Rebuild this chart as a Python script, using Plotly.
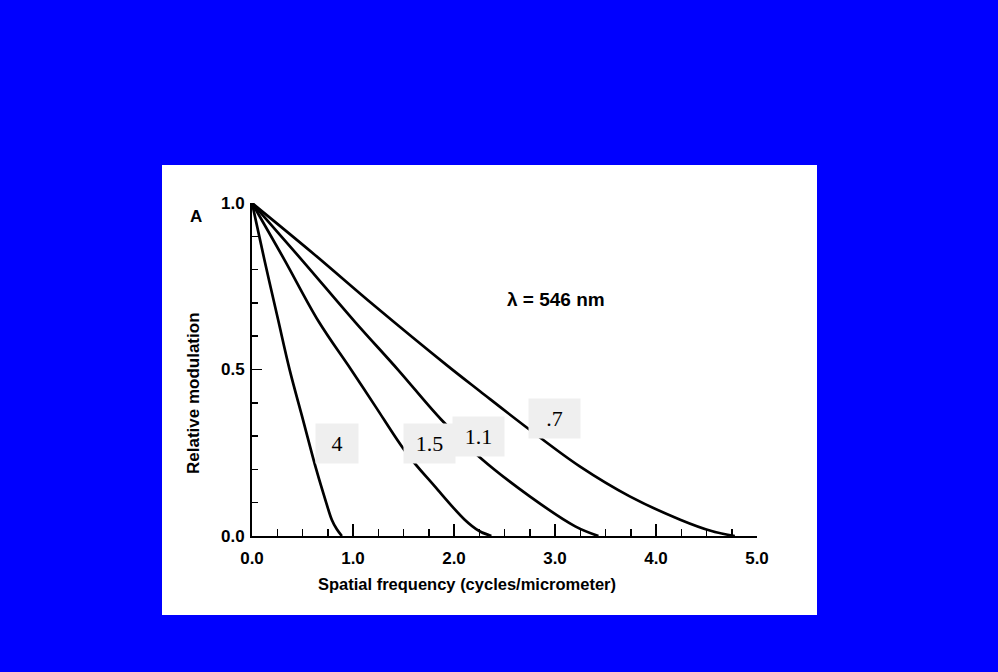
import plotly.graph_objects as go

# ---- data ----
x_tick_vals = [0, 1, 2, 3, 4, 5]
x_tick_text = ["0.0", "1.0", "2.0", "3.0", "4.0", "5.0"]
y_tick_vals = [0, 0.5, 1.0]
y_tick_text = ["0.0", "0.5", "1.0"]

curve_labels = ["4", "1.5", "1.1", ".7"]

freq_4 = [0, 0.126, 0.258, 0.373, 0.505, 0.637, 0.736, 0.79, 0.84, 0.89]
mod_4 = [1.0, 0.825, 0.65, 0.499, 0.349, 0.199, 0.099, 0.049, 0.02, 0.0]

freq_15 = [0, 0.32, 0.66, 0.98, 1.22, 1.53, 1.81, 2.106, 2.25, 2.37]
mod_15 = [1.0, 0.83, 0.644, 0.50, 0.39, 0.249, 0.149, 0.049, 0.015, 0.0]

freq_11 = [0, 0.505, 1.017, 1.446, 1.875, 2.26, 2.75, 3.2, 3.43]
mod_11 = [1.0, 0.825, 0.644, 0.499, 0.349, 0.235, 0.119, 0.029, 0.0]

freq_07 = [0, 0.60, 1.198, 1.94, 2.26, 2.75, 3.245, 3.74, 4.24, 4.55, 4.78]
mod_07 = [1.0, 0.85, 0.695, 0.51, 0.434, 0.319, 0.209, 0.119, 0.049, 0.015, 0.0]

series = [(freq_4, mod_4), (freq_15, mod_15), (freq_11, mod_11), (freq_07, mod_07)]

# label box positions (data coords) and widths
label_pos = [(0.839, 0.279, 42), (1.756, 0.279, 51), (2.242, 0.300, 51), (2.995, 0.352, 51)]

fig = go.Figure()
for name, (xs, ys) in zip(curve_labels, series):
    fig.add_trace(go.Scatter(x=xs, y=ys, mode="lines", name=name,
                             line=dict(color="black", width=2.7, shape="spline", smoothing=1.0),
                             hoverinfo="skip"))

sans = "Liberation Sans, Arial, sans-serif"
serif = "Liberation Serif, Times New Roman, serif"

fig.update_layout(
    width=998, height=672,
    margin=dict(l=252, r=241, t=203, b=136),
    paper_bgcolor="#0000FF",
    plot_bgcolor="white",
    showlegend=False,
    xaxis=dict(range=[0, 5], tickvals=x_tick_vals, ticktext=x_tick_text,
               showgrid=False, zeroline=False, showline=True, linecolor="black", linewidth=2,
               ticks="inside", ticklen=12, tickwidth=1.5, tickcolor="black",
               minor=dict(dtick=0.25, ticks="inside", ticklen=7, tickwidth=1.5, tickcolor="black", showgrid=False),
               ticklabelstandoff=6,
               tickfont=dict(family=sans, size=17, color="black", weight="bold"), fixedrange=True),
    yaxis=dict(range=[0, 1], tickvals=y_tick_vals, ticktext=y_tick_text,
               showgrid=False, zeroline=False, showline=True, linecolor="black", linewidth=2,
               ticks="inside", ticklen=10, tickwidth=1.5, tickcolor="black",
               minor=dict(dtick=0.1, ticks="inside", ticklen=6, tickwidth=1.5, tickcolor="black", showgrid=False),
               ticklabelstandoff=2,
               tickfont=dict(family=sans, size=17, color="black", weight="bold"), fixedrange=True),
)

# white panel behind the chart
fig.add_shape(type="rect", xref="paper", yref="paper",
              x0=(162 - 252) / 505, x1=(817 - 252) / 505,
              y0=(536 - 615) / 333, y1=(536 - 165) / 333,
              fillcolor="white", line=dict(width=0), layer="below")

annotations = [
    dict(text="<b>Spatial frequency (cycles/micrometer)</b>", xref="paper", yref="paper",
         x=(467 - 252) / 505, y=(536 - 583.5) / 333, showarrow=False,
         font=dict(family=sans, size=16.5, color="black"), xanchor="center", yanchor="middle"),
    dict(text="<b>Relative modulation</b>", xref="paper", yref="paper", textangle=-90,
         x=(193 - 252) / 505, y=(536 - 393) / 333, showarrow=False,
         font=dict(family=sans, size=17, color="black"), xanchor="center", yanchor="middle"),
    dict(text="<b>A</b>", xref="paper", yref="paper",
         x=(196 - 252) / 505, y=(536 - 216) / 333, showarrow=False,
         font=dict(family=sans, size=17, color="black"), xanchor="center", yanchor="middle"),
    dict(text="<b>λ = 546 nm</b>", xref="paper", yref="paper",
         x=(556 - 252) / 505, y=(536 - 299) / 333, showarrow=False,
         font=dict(family=sans, size=19, color="black"), xanchor="center", yanchor="middle"),
]
for name, (lx, ly, w) in zip(curve_labels, label_pos):
    annotations.append(dict(text=name, x=lx, y=ly, xref="x", yref="y", showarrow=False,
                            width=w, height=39, borderpad=0, bgcolor="#efefef",
                            font=dict(family=serif, size=22, color="black"),
                            xanchor="center", yanchor="middle"))
fig.update_layout(annotations=annotations)

fig.write_html("out.html",
               config={"displayModeBar": False, "staticPlot": True},
               post_script="document.body.style.margin='0';document.body.style.backgroundColor='#0000FF';")
